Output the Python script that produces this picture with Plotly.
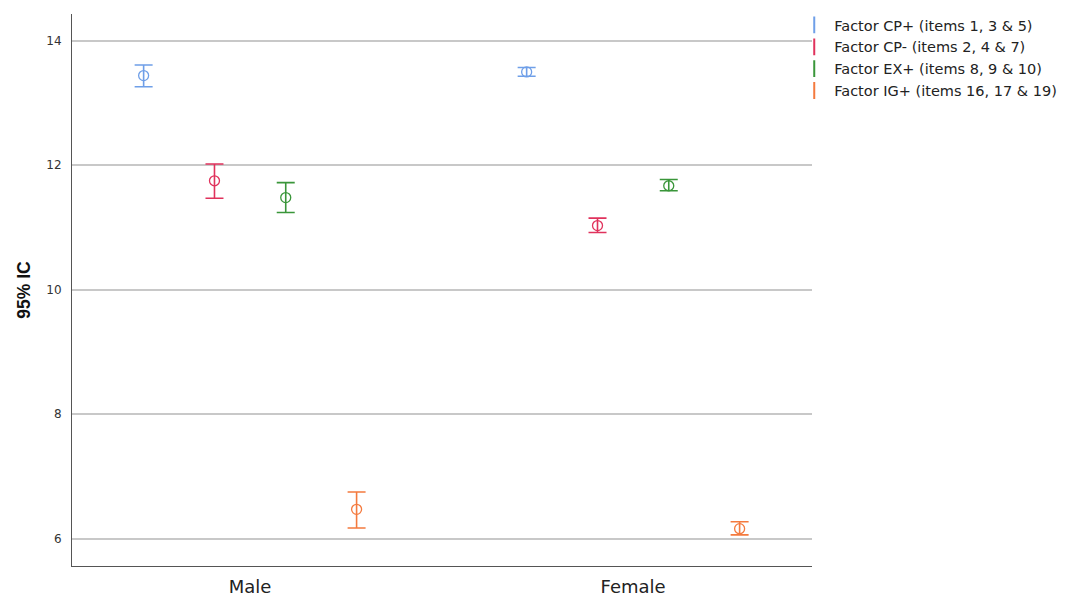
import plotly.graph_objects as go

groups = ["Male", "Female"]
factors = ["Factor CP+ (items 1, 3 & 5)", "Factor CP- (items 2, 4 & 7)",
           "Factor EX+ (items 8, 9 & 10)", "Factor IG+ (items 16, 17 & 19)"]
colors = ["#6f9fe8", "#e0325c", "#3a963a", "#f47a3e"]

# means and 95% CI bounds per factor, [Male, Female]
means = [[13.44, 13.50], [11.75, 11.03], [11.48, 11.67], [6.47, 6.16]]
upper = [[13.61, 13.57], [12.02, 11.15], [11.72, 11.77], [6.75, 6.27]]
lower = [[13.26, 13.43], [11.47, 10.92], [11.24, 11.59], [6.17, 6.06]]

offsets = [-0.278, -0.093, 0.093, 0.278]

fig = go.Figure()
for i, f in enumerate(factors):
    xs = [g + offsets[i] for g in range(len(groups))]
    fig.add_trace(go.Scatter(
        x=xs, y=means[i], mode="markers", showlegend=False,
        marker=dict(symbol="circle-open", size=10, color=colors[i],
                    line=dict(width=1.3, color=colors[i])),
        error_y=dict(type="data", symmetric=False,
                     array=[u - m for u, m in zip(upper[i], means[i])],
                     arrayminus=[m - l for m, l in zip(means[i], lower[i])],
                     color=colors[i], thickness=1.6, width=9),
    ))
    fig.add_trace(go.Scatter(
        x=[None], y=[None], mode="markers", name=f,
        marker=dict(symbol="line-ns-open", size=12, color=colors[i],
                    line=dict(width=2, color=colors[i])),
    ))

# page body adds an 8px offset; size the figure to fill the window
fig.update_layout(
    width=1059, height=588,
    margin=dict(l=64, r=255, t=6, b=30, autoexpand=False),
    plot_bgcolor="white", paper_bgcolor="white",
    font=dict(family="DejaVu Sans, sans-serif", color="#222"),
    legend=dict(x=0.976, y=1.009, xanchor="left", yanchor="top",
                font=dict(size=14.5, color="#222"), tracegroupgap=0,
                itemwidth=30, bgcolor="rgba(0,0,0,0)"),
    showlegend=True,
)
fig.update_xaxes(
    range=[-0.465, 1.467], tickvals=list(range(len(groups))), ticktext=groups,
    showgrid=False, zeroline=False, showline=True, linecolor="#555", linewidth=1,
    ticks="", tickfont=dict(size=18, color="#222"), automargin=False,
    ticklabelstandoff=4,
)
fig.update_yaxes(
    range=[5.56, 14.43], tickvals=[6, 8, 10, 12, 14],
    showgrid=True, gridcolor="#c8c8c8", gridwidth=1.5, zeroline=False,
    showline=True, linecolor="#555", linewidth=1, ticks="",
    tickfont=dict(size=12, color="#333"), automargin=False,
    ticklabelstandoff=7,
    title=dict(text="<b>95% IC</b>",
               font=dict(family="Liberation Sans, Arial, sans-serif", size=17.5, color="#111"),
               standoff=11),
)

fig.write_html("out.html")
